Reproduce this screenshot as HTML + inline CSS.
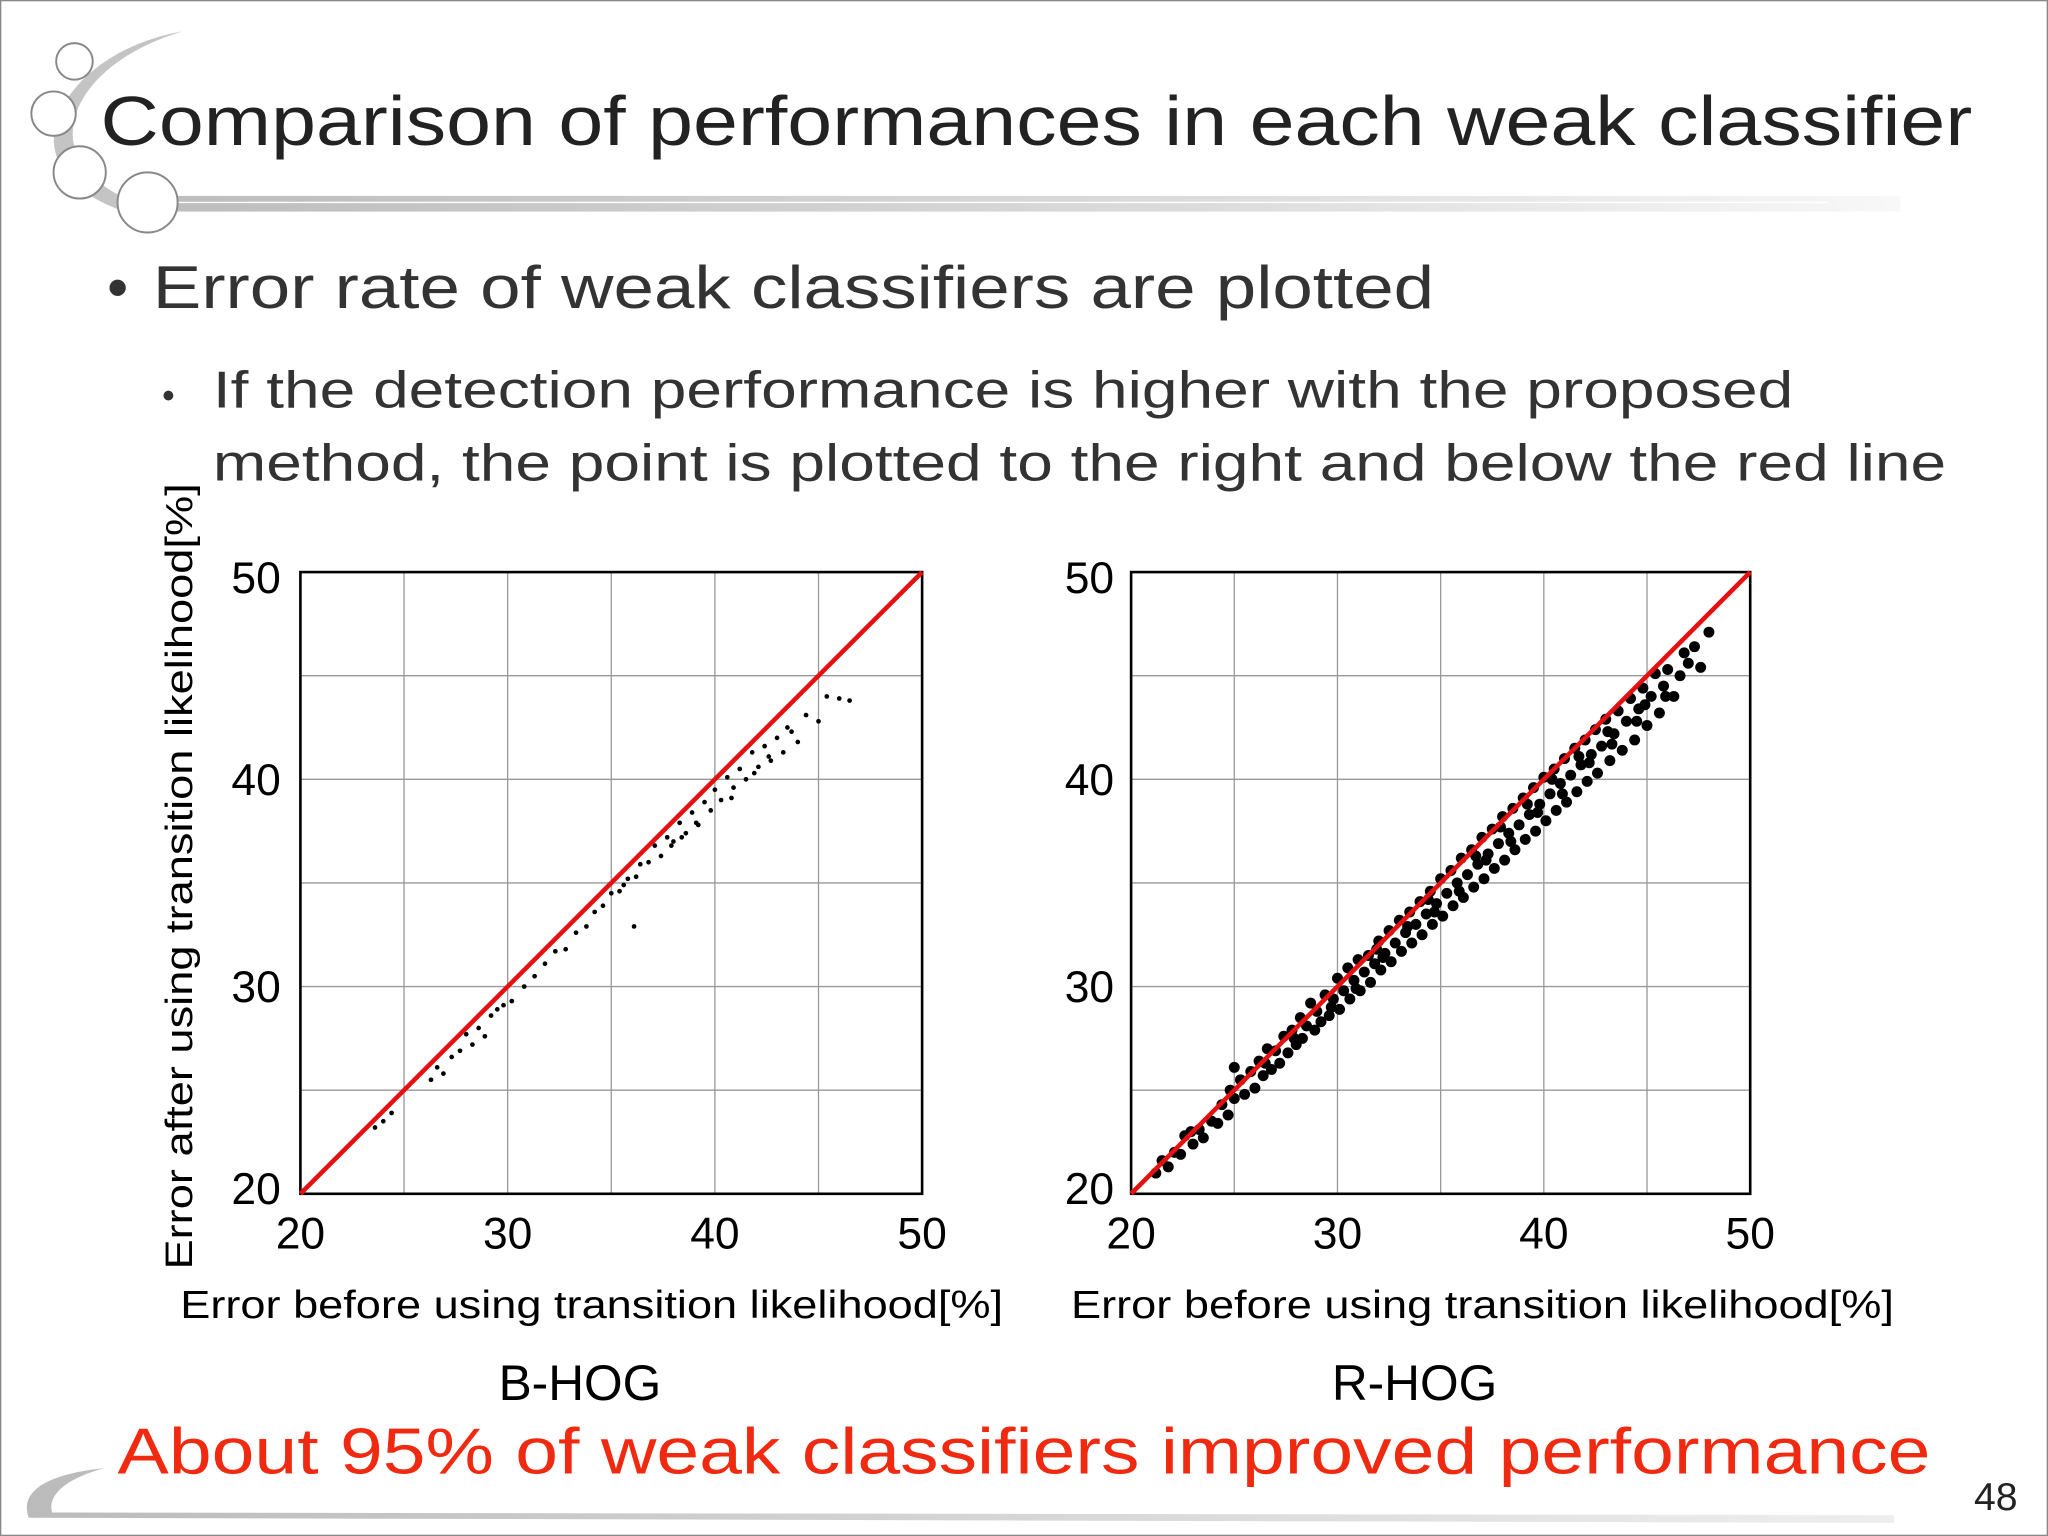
<!DOCTYPE html>
<html><head><meta charset="utf-8"><style>
html,body{margin:0;padding:0;background:#fff;}
svg{display:block;font-family:"Liberation Sans",sans-serif;}
</style></head><body>
<svg id="slide" width="2048" height="1536" viewBox="0 0 1568 1176" xmlns="http://www.w3.org/2000/svg">
<defs>
<linearGradient id="bar" x1="0" x2="1" y1="0" y2="0"><stop offset="0" stop-color="#bdbdbd"/><stop offset="0.6" stop-color="#dcdcdc"/><stop offset="1" stop-color="#f8f8f8"/></linearGradient>
<linearGradient id="bar2" x1="0" x2="1"><stop offset="0" stop-color="#bbb"/><stop offset="1" stop-color="#eee"/></linearGradient>
</defs>
<rect x="0.5" y="0.5" width="1567" height="1175" fill="#fff" stroke="#888"/>
<g>
<path d="M140,24 C75,35 35,80 42,115 C48,140 75,158 110,166 L112,158 C80,148 60,130 56,108 C52,75 85,40 140,24 Z" fill="#c4c4c4"/>
<rect x="125" y="150" width="1330" height="12" fill="url(#bar)"/>
<line x1="125" y1="155" x2="1400" y2="155" stroke="#fff" stroke-width="1"/>
<circle cx="57" cy="47" r="14" fill="#fff" stroke="#888" stroke-width="1.5"/>
<circle cx="41" cy="87" r="17" fill="#fff" stroke="#888" stroke-width="1.5"/>
<circle cx="61" cy="132" r="20" fill="#fff" stroke="#888" stroke-width="1.5"/>
<circle cx="113" cy="155" r="23" fill="#fff" stroke="#888" stroke-width="1.5"/>
<path d="M22,1162 C14,1140 40,1128 80,1124 C50,1132 36,1145 40,1158 L1450,1160 L1450,1166 Z" fill="url(#bar2)"/>
</g>
<text x="77" y="111" font-size="53" fill="#222" textLength="1433" lengthAdjust="spacingAndGlyphs">Comparison of performances in each weak classifier</text>
<text x="82" y="236" font-size="46" fill="#333">•</text>
<text x="117" y="236" font-size="46" fill="#333" textLength="981" lengthAdjust="spacingAndGlyphs">Error rate of weak classifiers are plotted</text>
<text x="124" y="312" font-size="28" fill="#333">•</text>
<text x="163" y="312" font-size="40" fill="#333" textLength="1210" lengthAdjust="spacingAndGlyphs">If the detection performance is higher with the proposed</text>
<text x="163" y="368" font-size="40" fill="#333" textLength="1327" lengthAdjust="spacingAndGlyphs">method, the point is plotted to the right and below the red line</text>
<g id="chartL"></g>
<g id="chartR"></g>
<text x="0" y="0" font-size="29" fill="#000" textLength="602" lengthAdjust="spacingAndGlyphs" transform="translate(147 972) rotate(-90)">Error after using transition likelihood[%]</text>
<text x="138" y="1009" font-size="30" fill="#000" textLength="630" lengthAdjust="spacingAndGlyphs">Error before using transition likelihood[%]</text>
<text x="820" y="1009" font-size="30" fill="#000" textLength="630" lengthAdjust="spacingAndGlyphs">Error before using transition likelihood[%]</text>
<text x="444" y="1072" font-size="38" fill="#000" text-anchor="middle">B-HOG</text>
<text x="1083" y="1072" font-size="38" fill="#000" text-anchor="middle">R-HOG</text>
<text x="90" y="1128" font-size="50" fill="#f02a10" textLength="1388" lengthAdjust="spacingAndGlyphs">About 95% of weak classifiers improved performance</text>
<text x="1528" y="1156" font-size="30" fill="#222" text-anchor="middle">48</text>
</svg>
<script>
const ticks=[20,30,40,50];
const gridVals=[25,30,35,40,45];
const bX=[23.6,24.0,24.4,26.3,26.6,26.9,27.3,27.7,28.0,28.3,28.6,28.9,29.2,29.5,29.8,30.2,30.8,31.3,31.8,32.3,32.8,33.3,33.8,34.2,34.6,35.0,35.4,35.8,36.2,36.4,36.8,37.1,37.4,37.7,38.0,38.3,38.6,38.9,39.2,39.5,39.8,40.0,40.3,40.6,40.9,41.2,41.5,41.8,42.1,42.4,42.7,43.0,43.3,43.7,44.0,44.4,45.0,45.4,46.0,46.5,36.1,38.4,39.1,40.8,41.9,42.6,43.5,37.9,35.6];
const bY=[23.2,23.5,23.9,25.5,26.1,25.8,26.6,26.9,27.7,27.2,28.0,27.6,28.6,28.9,29.1,29.3,30.0,30.5,31.1,31.7,31.8,32.6,32.9,33.6,33.9,34.5,34.6,35.2,35.3,35.9,36.0,36.8,36.3,37.2,37.0,37.9,37.4,38.4,37.8,38.9,38.5,39.5,39.0,40.1,39.6,40.5,40.0,41.3,40.6,41.6,40.9,42.0,41.3,42.3,41.8,43.1,42.8,44.0,43.9,43.8,32.9,37.2,37.9,39.1,40.3,41.1,42.5,36.8,34.9];
const rPts=[[21.2,21.0],[21.5,21.6],[21.8,21.3],[22.1,22.0],[22.4,21.9],[22.6,22.8],[23.0,22.4],[23.3,23.1],[23.5,22.7],[23.9,23.5],[24.2,23.4],[24.4,24.3],[24.7,23.8],[25.0,24.6],[25.0,26.1],[25.3,25.5],[25.5,24.8],[25.8,25.9],[26.0,25.1],[26.2,26.4],[26.4,25.7],[26.6,27.0],[26.8,26.0],[27.0,26.9],[27.2,26.3],[27.4,27.6],[27.6,26.8],[27.8,27.9],[28.0,27.2],[28.2,28.5],[28.3,27.5],[28.5,28.1],[28.7,29.2],[28.9,27.9],[29.0,28.8],[29.2,28.3],[29.4,29.6],[29.6,28.6],[29.8,29.4],[30.0,30.4],[30.1,28.9],[30.3,29.8],[30.5,30.9],[30.6,29.4],[30.8,30.3],[31.0,31.3],[31.1,29.8],[31.3,30.7],[31.5,31.5],[31.6,30.2],[31.8,31.1],[32.0,32.2],[32.1,30.8],[32.3,31.6],[32.5,32.7],[32.6,31.2],[32.8,32.1],[33.0,33.2],[33.1,31.7],[33.3,32.6],[33.5,33.6],[33.6,32.1],[33.8,33.0],[34.0,34.1],[34.1,32.5],[34.3,33.5],[34.5,34.6],[34.6,33.0],[34.8,34.0],[35.0,35.2],[35.1,33.4],[35.3,34.5],[35.5,35.6],[35.6,33.9],[35.8,35.0],[36.0,36.2],[36.1,34.3],[36.3,35.4],[36.5,36.6],[36.6,34.8],[36.8,35.9],[37.0,37.2],[37.1,35.2],[37.3,36.4],[37.5,37.6],[37.6,35.7],[37.8,36.9],[38.0,38.2],[38.1,36.1],[38.3,37.4],[38.5,38.6],[38.6,36.6],[38.8,37.8],[39.0,39.1],[39.1,37.1],[39.3,38.3],[39.5,39.6],[39.6,37.5],[39.8,38.8],[40.0,40.1],[40.1,38.0],[40.3,39.3],[40.5,40.5],[40.6,38.5],[40.8,39.8],[41.0,41.0],[41.1,38.9],[41.3,40.2],[41.5,41.5],[41.6,39.4],[41.8,40.7],[42.0,41.9],[42.1,39.9],[42.3,41.2],[42.5,42.4],[42.6,40.3],[42.8,41.6],[43.0,42.9],[43.2,40.9],[43.4,42.2],[43.6,43.3],[43.8,41.4],[44.0,42.8],[44.2,43.9],[44.4,41.9],[44.6,43.4],[44.8,44.4],[45.0,42.6],[45.2,44.0],[45.4,45.1],[45.6,43.2],[45.8,44.5],[46.0,45.3],[46.3,44.0],[46.6,45.0],[47.0,45.6],[47.3,46.4],[47.6,45.4],[48.0,47.1],
[29.7,29.0],[30.9,29.9],[32.2,31.4],[33.4,32.9],[34.7,33.6],[35.9,34.6],[37.2,36.1],[38.4,37.0],[39.7,38.4],[40.9,39.3],[42.2,40.8],[43.3,41.7],[44.5,42.8],[27.9,27.5],[26.5,26.3],[36.7,36.3],[39.2,38.8],[41.7,41.1],[43.1,42.3],[44.9,43.6],[31.9,31.8],[34.4,34.2],[37.9,37.7],[40.4,40.0],[45.9,44.0],[46.8,46.1],[24.8,25.0],[22.9,23.0]];
const NS="http://www.w3.org/2000/svg";
function mk(p,t,a){const e=document.createElementNS(NS,t);for(const k in a)e.setAttribute(k,a[k]);p.appendChild(e);return e;}
function chart(g,x0,x1,y0,y1,xs,ys,r,tickX){
  const sx=v=>x0+(v-20)/30*(x1-x0), sy=v=>y1-(v-20)/30*(y1-y0);
  gridVals.forEach(v=>{
    const a=mk(g,'line',{x1:sx(v),x2:sx(v),y1:y0,y2:y1,stroke:'#999','stroke-width':1});
    
    
    const b=mk(g,'line',{x1:x0,x2:x1,y1:sy(v),y2:sy(v),stroke:'#999','stroke-width':1});
    
    
  });
  const fr=mk(g,'rect',{x:x0,y:y0,width:x1-x0,height:y1-y0,fill:'none',stroke:'#000','stroke-width':2});
  
  
  xs.forEach((x,i)=>{
    const c=mk(g,'circle',{cx:sx(x),cy:sy(ys[i]),r:r,fill:'#000'});
    
    
  });
  const l=mk(g,'line',{x1:sx(20),y1:sy(20),x2:sx(50),y2:sy(50),stroke:'#e51010','stroke-width':3.5});
  
  
  ticks.forEach(v=>{
    const t=mk(g,'text',{x:tickX,y:sy(v)+12+(v===20?-4:0)+(v===50?4:0),'font-size':34,'text-anchor':'end',fill:'#000'});
    t.textContent=v;
    
    
    const u=mk(g,'text',{x:sx(v),y:y1+42,'font-size':34,'text-anchor':'middle',fill:'#000'});
    u.textContent=v;
    
    
  });
}
chart(document.getElementById('chartL'),230,706,438,914,bX,bY,1.8,215);
chart(document.getElementById('chartR'),866,1340,438,914,rPts.map(p=>p[0]),rPts.map(p=>p[1]),4.2,853);
</script>
</body></html>
